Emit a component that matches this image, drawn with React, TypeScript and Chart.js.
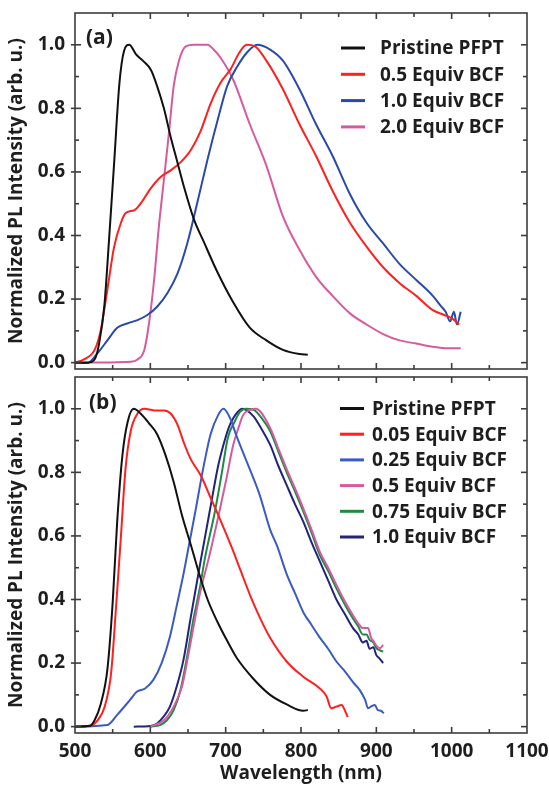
import React, { useEffect, useRef } from "react";
import { Chart, registerables } from "chart.js";

Chart.register(...registerables);

const FONT_FAMILY = "'Open Sans', 'DejaVu Sans', sans-serif";
const TEXT = "#1e1e1e";
const FRAME = "#3c3c3c";

// ---- axes ----
const X_TICKS = [500, 600, 700, 800, 900, 1000, 1100];
const X_MINOR = [550, 650, 750, 850, 950, 1050];
const Y_TICKS = [0, 0.2, 0.4, 0.6, 0.8, 1.0];
const Y_MINOR = [0.1, 0.3, 0.5, 0.7, 0.9];
const Y_TITLE = "Normalized PL Intensity (arb. u.)";
const X_TITLE = "Wavelength (nm)";

// ---- panel (a) ----
const A_LABELS = ["Pristine PFPT", "0.5 Equiv BCF", "1.0 Equiv BCF", "2.0 Equiv BCF"];
const A_COLORS = ["#111111", "#ff1f1f", "#2b4aa8", "#d65a9f"];

const A_PRISTINE_NM = [500, 517, 526, 532, 539, 545, 552, 559, 565, 572, 581, 590, 601, 609, 618, 627, 636, 645, 658, 671, 688, 710, 732, 754, 776, 798, 809];
const A_PRISTINE_PL = [0, 0, 0.01, 0.06, 0.18, 0.38, 0.63, 0.88, 0.98, 1.0, 0.97, 0.95, 0.92, 0.87, 0.8, 0.71, 0.63, 0.55, 0.45, 0.38, 0.29, 0.19, 0.11, 0.07, 0.04, 0.027, 0.025];

const A_05_NM = [500, 512, 526, 534, 543, 552, 561, 567, 579, 587, 601, 614, 627, 640, 654, 667, 680, 693, 707, 718, 728, 739, 754, 776, 798, 820, 842, 865, 887, 909, 931, 953, 975, 990, 1000, 1010];
const A_05_PL = [0, 0.01, 0.04, 0.1, 0.23, 0.365, 0.44, 0.47, 0.48, 0.5, 0.55, 0.585, 0.605, 0.63, 0.67, 0.73, 0.815, 0.88, 0.925, 0.975, 1.0, 0.995, 0.95, 0.86, 0.75, 0.65, 0.54, 0.44, 0.365, 0.3, 0.25, 0.21, 0.165, 0.15, 0.14, 0.12];

const A_10_NM = [500, 517, 530, 543, 556, 570, 583, 596, 609, 623, 636, 649, 662, 676, 689, 702, 715, 728, 742, 759, 776, 798, 820, 842, 865, 887, 909, 931, 953, 975, 985, 992, 998, 1003, 1007, 1012];
const A_10_PL = [0, 0, 0.03, 0.07, 0.11, 0.124, 0.134, 0.15, 0.176, 0.22, 0.28, 0.375, 0.5, 0.64, 0.76, 0.87, 0.93, 0.975, 1.0, 0.985, 0.95, 0.86, 0.75, 0.65, 0.53, 0.44, 0.375, 0.31, 0.26, 0.21, 0.18, 0.16, 0.13, 0.16, 0.12, 0.16];

const A_20_NM = [500, 574, 583, 592, 598, 605, 611, 618, 625, 631, 638, 647, 658, 676, 684, 693, 710, 732, 754, 776, 798, 820, 842, 865, 887, 909, 931, 953, 975, 995, 1012];
const A_20_PL = [0, 0.003, 0.01, 0.04, 0.12, 0.26, 0.42, 0.575, 0.73, 0.87, 0.95, 0.995, 1.0, 1.0, 0.985, 0.96, 0.89, 0.75, 0.62, 0.46, 0.355, 0.27, 0.21, 0.155, 0.12, 0.09, 0.07, 0.06, 0.05, 0.045, 0.045];

// ---- panel (b) ----
const B_LABELS = ["Pristine PFPT", "0.05 Equiv BCF", "0.25 Equiv BCF", "0.5 Equiv BCF", "0.75 Equiv BCF", "1.0 Equiv BCF"];
const B_COLORS = ["#111111", "#ff1f1f", "#3a5cc0", "#d65a9f", "#1f8a43", "#23237a"];

const B_PRISTINE_NM = [500, 520, 526, 534, 543, 550, 556, 563, 570, 578, 587, 598, 609, 620, 631, 642, 654, 665, 676, 689, 702, 715, 737, 759, 781, 803, 809];
const B_PRISTINE_PL = [0, 0.003, 0.02, 0.07, 0.18, 0.39, 0.645, 0.855, 0.96, 1.0, 0.985, 0.955, 0.92, 0.855, 0.77, 0.665, 0.57, 0.48, 0.4, 0.33, 0.27, 0.215, 0.15, 0.1, 0.07, 0.05, 0.052];

const B_005_NM = [500, 520, 530, 539, 548, 554, 561, 567, 574, 583, 592, 605, 618, 627, 636, 645, 654, 667, 680, 693, 707, 720, 733, 746, 759, 781, 803, 825, 834, 840, 847, 854, 858, 862];
const B_005_PL = [0, 0.003, 0.02, 0.06, 0.17, 0.36, 0.6, 0.81, 0.93, 0.985, 1.0, 0.995, 0.995, 0.985, 0.95, 0.89, 0.84, 0.79, 0.72, 0.65, 0.57, 0.49, 0.41, 0.34, 0.28, 0.205, 0.157, 0.12, 0.095, 0.058, 0.063, 0.068, 0.052, 0.03];

const B_025_NM = [500, 543, 556, 573, 582, 593, 604, 615, 626, 635, 644, 652, 660, 670, 680, 690, 697, 706, 714, 732, 745, 759, 768, 781, 792, 803, 814, 825, 836, 847, 858, 869, 878, 885, 889, 894, 898, 902, 906, 910];
const B_025_PL = [0, 0.005, 0.037, 0.084, 0.11, 0.12, 0.147, 0.2, 0.283, 0.38, 0.48, 0.58, 0.68, 0.81, 0.92, 0.98, 1.0, 0.97, 0.917, 0.81, 0.73, 0.62, 0.57, 0.48, 0.42, 0.36, 0.32, 0.28, 0.245, 0.205, 0.175, 0.14, 0.115, 0.085, 0.058, 0.065, 0.068, 0.052, 0.05, 0.042];

const B_050_NM = [600, 618, 631, 642, 650, 659, 666, 671, 677, 692, 701, 710, 717, 723, 732, 740, 759, 770, 781, 792, 803, 814, 825, 836, 847, 858, 869, 876, 882, 889, 893, 896, 900, 905, 909];
const B_050_PL = [0, 0.02, 0.063, 0.126, 0.22, 0.335, 0.42, 0.47, 0.524, 0.68, 0.78, 0.886, 0.94, 0.98, 0.996, 1.0, 0.94, 0.875, 0.81, 0.75, 0.687, 0.62, 0.55, 0.5, 0.446, 0.395, 0.35, 0.325, 0.31, 0.31, 0.28, 0.27, 0.255, 0.247, 0.257];

const B_075_NM = [600, 613, 622, 631, 640, 648, 657, 666, 672, 686, 695, 703, 712, 719, 727, 737, 748, 759, 770, 781, 792, 803, 814, 825, 836, 847, 858, 869, 876, 882, 887, 891, 896, 900, 905, 909];
const B_075_PL = [0, 0.005, 0.02, 0.052, 0.115, 0.21, 0.335, 0.44, 0.524, 0.68, 0.8, 0.91, 0.96, 0.99, 1.0, 0.997, 0.97, 0.93, 0.865, 0.8, 0.74, 0.677, 0.61, 0.54, 0.49, 0.435, 0.385, 0.34, 0.315, 0.29, 0.29, 0.273, 0.265, 0.247, 0.24, 0.236];

const B_100_NM = [578, 600, 609, 617, 626, 635, 644, 653, 660, 667, 679, 690, 697, 704, 710, 716, 722, 728, 737, 748, 759, 770, 781, 792, 803, 814, 825, 836, 847, 858, 869, 876, 882, 887, 891, 896, 900, 904, 909];
const B_100_PL = [0, 0.002, 0.01, 0.03, 0.063, 0.126, 0.21, 0.335, 0.43, 0.524, 0.68, 0.82, 0.886, 0.94, 0.97, 0.99, 1.0, 0.995, 0.976, 0.935, 0.887, 0.82, 0.76, 0.7, 0.645, 0.58, 0.52, 0.46, 0.4, 0.355, 0.31, 0.29, 0.265, 0.27, 0.245, 0.25, 0.225, 0.215, 0.2];

const A_SERIES_NM = [A_PRISTINE_NM, A_05_NM, A_10_NM, A_20_NM];
const A_SERIES_PL = [A_PRISTINE_PL, A_05_PL, A_10_PL, A_20_PL];
const B_SERIES_NM = [B_PRISTINE_NM, B_005_NM, B_025_NM, B_050_NM, B_075_NM, B_100_NM];
const B_SERIES_PL = [B_PRISTINE_PL, B_005_PL, B_025_PL, B_050_PL, B_075_PL, B_100_PL];

const pts = (xs: number[], ys: number[]) => xs.map((x, i) => ({ x, y: ys[i] }));
const font = (size: number) => ({ family: FONT_FAMILY, size, weight: "bold" as const });

const frameTicks = {
  id: "frameTicks",
  afterDatasetsDraw(chart: any) {
    const { ctx, chartArea: a, scales } = chart;
    const sx = scales.x;
    const sy = scales.y;
    ctx.save();
    ctx.strokeStyle = FRAME;
    ctx.lineWidth = 1.6;
    ctx.strokeRect(a.left, a.top, a.right - a.left, a.bottom - a.top);
    const seg = (x1: number, y1: number, x2: number, y2: number) => {
      ctx.beginPath();
      ctx.moveTo(x1, y1);
      ctx.lineTo(x2, y2);
      ctx.stroke();
    };
    X_TICKS.forEach((v) => {
      const px = sx.getPixelForValue(v);
      if (px <= a.left + 1 || px >= a.right - 1) return;
      seg(px, a.bottom, px, a.bottom - 6);
      seg(px, a.top, px, a.top + 6);
    });
    X_MINOR.forEach((v) => {
      const px = sx.getPixelForValue(v);
      seg(px, a.bottom, px, a.bottom - 4);
      seg(px, a.top, px, a.top + 4);
    });
    Y_TICKS.forEach((v) => {
      const py = sy.getPixelForValue(v);
      seg(a.left - 4, py, a.left + 6, py);
      seg(a.right - 6, py, a.right, py);
    });
    Y_MINOR.forEach((v) => {
      const py = sy.getPixelForValue(v);
      seg(a.left, py, a.left + 4, py);
      seg(a.right - 4, py, a.right, py);
    });
    ctx.restore();
  },
};

const panelLegend = {
  id: "panelLegend",
  afterDraw(chart: any, _args: any, opts: any) {
    const { ctx } = chart;
    ctx.save();
    ctx.textBaseline = "middle";
    ctx.textAlign = "left";
    ctx.font = `bold ${opts.fontSize}px ${FONT_FAMILY}`;
    chart.data.datasets.forEach((ds: any, i: number) => {
      const yy = opts.y0 + i * opts.dy;
      ctx.strokeStyle = ds.borderColor;
      ctx.lineWidth = 3;
      ctx.beginPath();
      ctx.moveTo(opts.x0, yy);
      ctx.lineTo(opts.x0 + opts.len, yy);
      ctx.stroke();
      ctx.fillStyle = TEXT;
      ctx.fillText(ds.label, opts.textX, yy + 1);
    });
    ctx.font = `bold ${opts.tagSize}px ${FONT_FAMILY}`;
    ctx.fillStyle = TEXT;
    ctx.fillText(opts.tag, opts.tagX, opts.tagY);
    ctx.restore();
  },
};

function buildConfig(labels: string[], colors: string[], nms: number[][], pls: number[][], o: any) {
  return {
    type: "line" as const,
    data: {
      datasets: labels.map((label, i) => ({
        label,
        data: pts(nms[i], pls[i]),
        borderColor: colors[i],
        backgroundColor: colors[i],
        borderWidth: 2,
        pointRadius: 0,
        fill: false,
        cubicInterpolationMode: "monotone" as const,
      })),
    },
    options: {
      animation: false as const,
      responsive: false,
      devicePixelRatio: 1,
      layout: { padding: o.padding },
      plugins: {
        legend: { display: false },
        tooltip: { enabled: false },
        panelLegend: o.legend,
      },
      scales: {
        x: {
          type: "linear" as const,
          min: 500,
          max: 1100,
          display: o.showX,
          grid: { display: false, drawTicks: false },
          border: { display: false },
          afterBuildTicks: (s: any) => {
            s.ticks = X_TICKS.map((v) => ({ value: v }));
          },
          afterFit: (s: any) => {
            s.height = o.xHeight;
            s.paddingLeft = 0;
            s.paddingRight = 0;
          },
          ticks: {
            autoSkip: false,
            maxRotation: 0,
            padding: 7,
            color: TEXT,
            font: font(19),
            callback: (v: any) => String(v),
          },
          title: {
            display: true,
            text: X_TITLE,
            color: TEXT,
            font: font(19),
            padding: { top: 0, bottom: 0 },
          },
        },
        y: {
          type: "linear" as const,
          min: -0.02,
          max: 1.1,
          grid: { display: false, drawTicks: false },
          border: { display: false },
          afterBuildTicks: (s: any) => {
            s.ticks = Y_TICKS.map((v) => ({ value: v }));
          },
          afterFit: (s: any) => {
            s.width = 75;
            s.paddingTop = 0;
            s.paddingBottom = 0;
          },
          ticks: {
            padding: 10,
            color: TEXT,
            font: font(19),
            callback: (v: any) => Number(v).toFixed(1),
          },
          title: {
            display: true,
            text: Y_TITLE,
            color: TEXT,
            font: font(19),
            padding: { top: 5, bottom: 0 },
          },
        },
      },
    },
    plugins: [frameTicks, panelLegend],
  };
}

export default function App() {
  const topRef = useRef<HTMLCanvasElement>(null);
  const botRef = useRef<HTMLCanvasElement>(null);

  useEffect(() => {
    const top = new Chart(
      topRef.current as HTMLCanvasElement,
      buildConfig(A_LABELS, A_COLORS, A_SERIES_NM, A_SERIES_PL, {
        padding: { top: 13, right: 22, bottom: 4, left: 0 },
        showX: false,
        xHeight: 0,
        legend: { x0: 341, len: 24, textX: 380, y0: 48, dy: 26.3, fontSize: 19, tag: "(a)", tagX: 86, tagY: 38, tagSize: 21 },
      }) as any
    );
    const bottom = new Chart(
      botRef.current as HTMLCanvasElement,
      buildConfig(B_LABELS, B_COLORS, B_SERIES_NM, B_SERIES_PL, {
        padding: { top: 4, right: 22, bottom: 0, left: 0 },
        showX: true,
        xHeight: 52,
        legend: { x0: 340, len: 24, textX: 372, y0: 35.5, dy: 25.7, fontSize: 19, tag: "(b)", tagX: 89, tagY: 30, tagSize: 21 },
      }) as any
    );
    return () => {
      top.destroy();
      bottom.destroy();
    };
  }, []);

  return (
    <div style={{ position: "absolute", left: 0, top: 0, width: 549, height: 785, background: "#ffffff" }}>
      <canvas ref={topRef} width={549} height={373} style={{ position: "absolute", left: 0, top: 0, display: "block" }} />
      <canvas ref={botRef} width={549} height={412} style={{ position: "absolute", left: 0, top: 373, display: "block" }} />
    </div>
  );
}
